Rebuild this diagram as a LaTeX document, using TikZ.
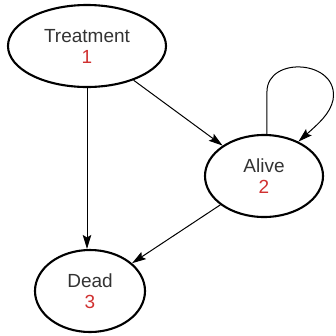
\documentclass[tikz,border=0pt]{standalone}
\usepackage{fontspec}
\setmainfont{Liberation Sans}
\usetikzlibrary{shapes.geometric,arrows.meta}
\definecolor{txt}{HTML}{333333}
\definecolor{num}{HTML}{D03030}
\begin{document}
\begin{tikzpicture}[x=1pt,y=-1pt,
  state/.style={ellipse,draw=black,line width=2.1pt,inner sep=0pt,
    text=txt,align=center,font=\fontsize{19}{21}\selectfont,minimum height=82pt},
  edge/.style={line width=1pt,-{Stealth[length=14pt,width=8.5pt,inset=2.5pt]}}]
\useasboundingbox (0,0) rectangle (336,335);
\node[state,minimum width=158pt] (T) at (87,46) {Treatment\\\textcolor{num}{1}};
\node[state,minimum width=118pt] (A) at (264,176) {Alive\\\textcolor{num}{2}};
\node[state,minimum width=110pt] (D) at (90,291) {Dead\\\textcolor{num}{3}};
\draw[edge] (T.south) -- (T.south |- D.north);
\draw[edge] (T) -- (A);
\draw[edge] (A) -- (D);
\draw[edge] (A.86) -- ++(0,-42) .. controls +(0,-37) and (340,60) .. (333,100)
  .. controls (330,114) and (318,124) .. (A.45);
\end{tikzpicture}
\end{document}
